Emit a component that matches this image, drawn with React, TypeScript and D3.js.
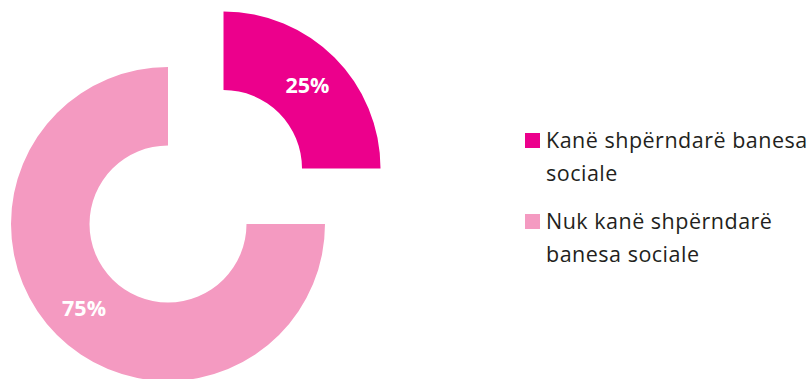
import React from "react";
import * as d3 from "d3";

const categories = ["Kanë shpërndarë banesa sociale", "Nuk kanë shpërndarë banesa sociale"];
const values = [25, 75];
const labels = ["25%", "75%"];
const legendLines = [["Kanë shpërndarë banesa", "sociale"], ["Nuk kanë shpërndarë", "banesa sociale"]];
const colors = ["#EC008C", "#F49AC1"];

export default function App() {
  const W = 811, H = 379;
  const cx = 168, cy = 224, R = 157, r = 78.5;
  const explode = [78.5, 0];
  const pie = d3.pie<number>().sort(null).value((d) => d);
  const arcs = pie(values);
  const arc = d3.arc<d3.PieArcDatum<number>>().innerRadius(r).outerRadius(R);
  const labelArc = d3.arc<d3.PieArcDatum<number>>().innerRadius((R + r) / 2 + 1).outerRadius((R + r) / 2 + 1);
  const font = "'Open Sans', sans-serif";
  return (
    <svg width={W} height={H} style={{ position: "absolute", left: 0, top: 0 }}>
      <rect width={W} height={H} fill="#fff" />
      {arcs.map((a, i) => {
        const mid = (a.startAngle + a.endAngle) / 2;
        const dx = Math.sin(mid) * explode[i];
        const dy = -Math.cos(mid) * explode[i];
        const [lx, ly] = labelArc.centroid(a);
        return (
          <g key={i} transform={`translate(${cx + dx},${cy + dy})`}>
            <path d={arc(a) || ""} fill={colors[i]} />
            <text x={lx} y={ly + 8} textAnchor="middle" fill="#fff"
              fontFamily={font} fontWeight="bold" fontSize={21.5}>{labels[i]}</text>
          </g>
        );
      })}
      {categories.map((c, i) => {
        const y0 = 133 + i * 81;
        return (
          <g key={c}>
            <rect x={525} y={y0} width={15} height={15} fill={colors[i]} />
            {legendLines[i].map((t, j) => (
              <text key={j} x={546} y={y0 + 15 + j * 33} fill="#231F20" fontFamily={font}
                fontSize={21.5} letterSpacing={0.5}>{t}</text>
            ))}
          </g>
        );
      })}
    </svg>
  );
}
